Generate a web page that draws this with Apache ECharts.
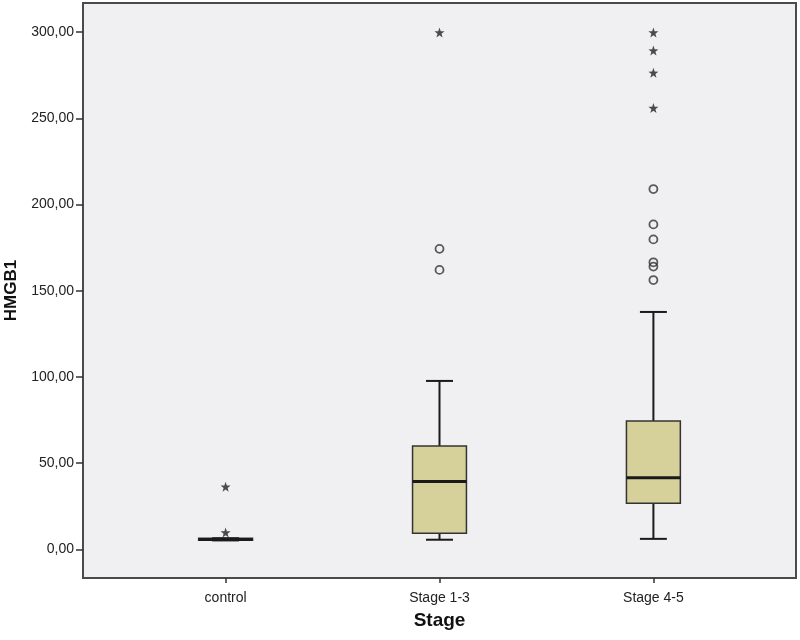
<!DOCTYPE html>
<html>
<head>
<meta charset="utf-8">
<title>HMGB1 by Stage</title>
<script src="https://cdn.jsdelivr.net/npm/echarts@6/dist/echarts.min.js"></script>
<style>
  html, body { margin: 0; padding: 0; background: #fff; }
  #chart { width: 800px; height: 640px; }
</style>
</head>
<body>
<div id="chart"></div>
<script>
const categories = ['control', 'Stage 1-3', 'Stage 4-5'];
// whisker low, Q1, median, Q3, whisker high
const boxStats = [
  [5.2, 5.3, 5.8, 6.4, 6.5],
  [5.6, 9.4, 39.4, 60.0, 97.7],
  [6.1, 26.7, 41.6, 74.4, 137.7]
];
// outliers (circles) and extremes (stars)
const outliers = [
  [],
  [174.3, 162.1],
  [209.0, 188.5, 179.8, 166.5, 164.0, 156.2]
];
const extremes = [
  [36.3, 9.8],
  [299.8],
  [299.8, 289.3, 276.4, 256.0]
];
const yTicks = [0, 50, 100, 150, 200, 250, 300];

const fontFamily = 'Liberation Sans, Arial, sans-serif';
const starPath = 'path://M0,-10L2.35,-3.24L9.51,-3.09L3.8,1.24L5.88,8.09L0,4L-5.88,8.09L-3.8,1.24L-9.51,-3.09L-2.35,-3.24Z';

const boxData = boxStats.map((s, i) => [i].concat(s));
const outlierData = [];
outliers.forEach((vals, i) => vals.forEach(v => outlierData.push([i, v])));
const extremeData = [];
extremes.forEach((vals, i) => vals.forEach(v => extremeData.push([i, v])));

function renderBox(params, api) {
  const idx = api.value(0);
  const half = api.size([1, 0])[0] * 0.126;
  const cap = half / 2;
  const lo = api.coord([idx, api.value(1)]);
  const q1 = api.coord([idx, api.value(2)]);
  const med = api.coord([idx, api.value(3)]);
  const q3 = api.coord([idx, api.value(4)]);
  const hi = api.coord([idx, api.value(5)]);
  const x = lo[0];
  const line = (x1, y1, x2, y2, w) => ({
    type: 'line',
    shape: { x1: x1, y1: y1, x2: x2, y2: y2 },
    style: { stroke: '#1a1a1a', lineWidth: w }
  });
  return {
    type: 'group',
    children: [
      line(x, hi[1], x, q3[1], 2),
      line(x, q1[1], x, lo[1], 2),
      line(x - cap, hi[1], x + cap, hi[1], 2),
      line(x - cap, lo[1], x + cap, lo[1], 2),
      {
        type: 'rect',
        shape: { x: x - half, y: q3[1], width: half * 2, height: q1[1] - q3[1] },
        style: { fill: '#d6d09b', stroke: '#333', lineWidth: 1.5 }
      },
      line(x - half, med[1], x + half, med[1], 3)
    ]
  };
}

const chart = echarts.init(document.getElementById('chart'));
chart.setOption({
  backgroundColor: '#fff',
  animation: false,
  textStyle: { fontFamily: fontFamily },
  grid: {
    left: 83, right: 4, top: 3, bottom: 62,
    outerBoundsMode: 'none',
    containLabel: false,
    show: true,
    backgroundColor: '#f0f0f3',
    borderColor: '#4a4a4a',
    borderWidth: 2
  },
  xAxis: {
    type: 'value',
    min: -2 / 3,
    max: 8 / 3,
    name: 'Stage',
    nameLocation: 'middle',
    nameGap: 33,
    nameTextStyle: { fontSize: 19, fontWeight: 'bold', color: '#111' },
    axisLine: { show: false, onZero: false },
    splitLine: { show: false },
    axisTick: { customValues: [0, 1, 2], length: 5, lineStyle: { color: '#333', width: 1.5 } },
    axisLabel: {
      customValues: [0, 1, 2],
      formatter: v => categories[Math.round(v)],
      fontSize: 14, color: '#222', margin: 13
    }
  },
  yAxis: {
    type: 'value',
    min: -16.6,
    max: 316.9,
    name: 'HMGB1',
    nameLocation: 'middle',
    nameGap: 59,
    nameTextStyle: { fontSize: 17, fontWeight: 'bold', color: '#111' },
    axisLine: { show: false, onZero: false },
    splitLine: { show: false },
    axisTick: { customValues: yTicks, length: 7, lineStyle: { color: '#333', width: 1.5 } },
    axisLabel: {
      customValues: yTicks,
      formatter: v => v.toFixed(2).replace('.', ','),
      fontSize: 14, color: '#222', margin: 9
    }
  },
  series: [
    {
      type: 'custom',
      renderItem: renderBox,
      encode: { x: 0, y: [1, 2, 3, 4, 5] },
      data: boxData,
      z: 2
    },
    {
      type: 'scatter',
      data: outlierData,
      symbol: 'circle',
      symbolSize: 8,
      itemStyle: { color: 'rgba(0,0,0,0)', borderColor: '#333', borderWidth: 1.8 },
      z: 3
    },
    {
      type: 'scatter',
      data: extremeData,
      symbol: starPath,
      symbolSize: 10,
      itemStyle: { color: '#222' },
      z: 3
    }
  ]
});
</script>
</body>
</html>
